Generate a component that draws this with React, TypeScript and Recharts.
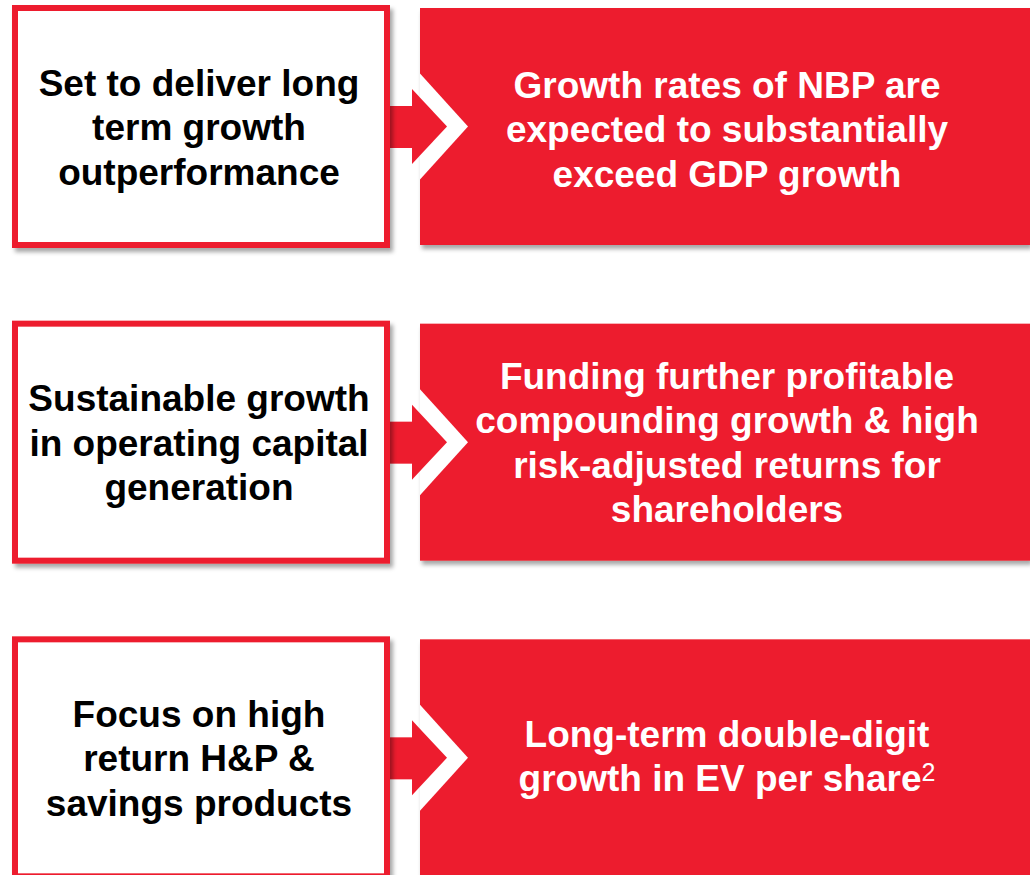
import React from 'react';
import { BarChart, Bar, XAxis, YAxis } from 'recharts';

// Categories (one per row of the diagram)
const rowKeys = ['growth', 'capital', 'returns'];

// Left-box statements (already broken into lines)
const leftLines: string[][] = [
  ['Set to deliver long', 'term growth', 'outperformance'],
  ['Sustainable growth', 'in operating capital', 'generation'],
  ['Focus on high', 'return H&P &', 'savings products'],
];

// Right-box outcomes (already broken into lines)
const rightLines: string[][] = [
  ['Growth rates of NBP are', 'expected to substantially', 'exceed GDP growth'],
  ['Funding further profitable', 'compounding growth & high', 'risk-adjusted returns for', 'shareholders'],
  ['Long-term double-digit', 'growth in EV per share'],
];

// Footnote markers appended to the last line of the right box
const rightNotes = ['', '', '2'];

// Horizontal layout segments on a 0..1030 layout axis
const segLead = 12;
const segLeft = 378;
const segGap = 30;
const segRight = 610;

const RED = '#ED1C2E';
const FONT = '"Liberation Sans", Arial, Helvetica, sans-serif';
const FS = 37;
const LH = 44.5;

const data = rowKeys.map((k) => ({
  key: k,
  lead: segLead,
  left: segLeft,
  gap: segGap,
  right: segRight,
}));

const firstBaseline = (cy: number, n: number, adj = 0) => cy + 13.5 + adj - ((n - 1) / 2) * LH;

const LeftBox = (props: any) => {
  const { x, y, width, height, index } = props;
  const cy = y + height / 2;
  const lines = leftLines[index];
  const fb = firstBaseline(cy, lines.length);
  const right = x + width;
  return (
    <g>
      <defs>
        <filter id={`lshadow-${index}`} x="-10%" y="-10%" width="125%" height="130%">
          <feDropShadow dx="3" dy="4" stdDeviation="2.2" floodColor="#000" floodOpacity="0.35" />
        </filter>
      </defs>
      {/* arrow shaft, drawn under the box so the box shadow falls on it */}
      <rect x={right - 2} y={cy - 20.5} width={24} height={42} fill={RED} />
      <rect
        x={x + 3}
        y={y + 3}
        width={width - 6}
        height={height - 6}
        fill="#fff"
        stroke={RED}
        strokeWidth={6}
        filter={`url(#lshadow-${index})`}
      />
      <text
        x={x + width / 2}
        textAnchor="middle"
        fontFamily={FONT}
        fontWeight="bold"
        fontSize={FS}
        fill="#000"
      >
        {lines.map((l, i) => (
          <tspan key={i} x={x + width / 2 - 2} y={fb + i * LH}>
            {l}
          </tspan>
        ))}
      </text>
    </g>
  );
};

const rightAdj = [2, 0, -2.5];

const RightBox = (props: any) => {
  const { x, y, width, height, index } = props;
  const cy = y + height / 2;
  const lines = rightLines[index];
  const note = rightNotes[index];
  const fb = firstBaseline(cy, lines.length, rightAdj[index]);
  const tx = x + width / 2 + 2;
  return (
    <g>
      <defs>
        <filter id={`rshadow-${index}`} x="-5%" y="-10%" width="115%" height="130%">
          <feDropShadow dx="2" dy="4" stdDeviation="2.2" floodColor="#000" floodOpacity="0.35" />
        </filter>
      </defs>
      <rect
        x={x}
        y={y + 3}
        width={width}
        height={height - 6}
        fill={RED}
        filter={`url(#rshadow-${index})`}
      />
      {/* white chevron outline */}
      <polygon points={`${x},${cy - 53} ${x + 48},${cy} ${x},${cy + 53}`} fill="#fff" />
      {/* red arrow head */}
      <polygon points={`${x - 8},${cy - 37.5} ${x + 27},${cy} ${x - 8},${cy + 37.5}`} fill={RED} />
      {lines.map((l, i) => {
        const last = i === lines.length - 1;
        return (
          <text
            key={i}
            x={tx}
            y={fb + i * LH}
            textAnchor="middle"
            fontFamily={FONT}
            fontWeight="bold"
            fontSize={FS}
            fill="#fff"
          >
            {l}
            {last && note ? (
              <tspan dy={-10} fontSize={25} fontWeight="normal">
                {note}
              </tspan>
            ) : null}
          </text>
        );
      })}
    </g>
  );
};

export default function App() {
  return (
    <div
      style={{
        position: 'fixed',
        left: 0,
        top: -31,
        width: 1030,
        height: 906,
        overflow: 'hidden',
        background: '#fff',
      }}
    >
      <BarChart
        width={1030}
        height={947}
        data={data}
        layout="vertical"
        margin={{ top: 0, right: 0, bottom: 0, left: 0 }}
        barSize={243}
      >
        <XAxis type="number" domain={[0, 1030]} hide allowDataOverflow />
        <YAxis type="category" dataKey="key" hide />
        <Bar dataKey="lead" stackId="row" fill="none" isAnimationActive={false} />
        <Bar dataKey="left" stackId="row" shape={LeftBox} isAnimationActive={false} />
        <Bar dataKey="gap" stackId="row" fill="none" isAnimationActive={false} />
        <Bar dataKey="right" stackId="row" shape={RightBox} isAnimationActive={false} />
      </BarChart>
    </div>
  );
}
